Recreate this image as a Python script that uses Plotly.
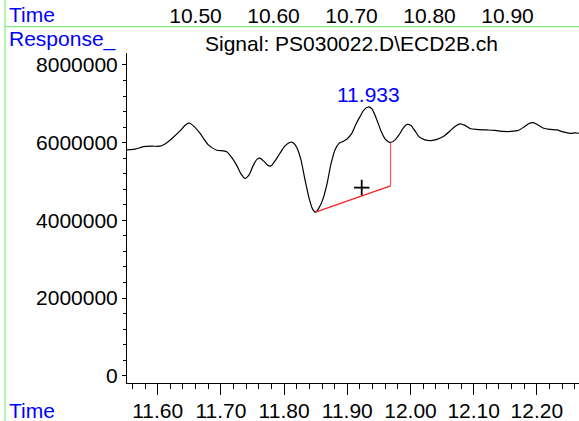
import plotly.graph_objects as go

# ---- data ----
times = [11.5509, 11.5641, 11.5772, 11.5910, 11.6036, 11.6116, 11.6226, 11.6353, 11.6448, 11.6511,
         11.6574, 11.6669, 11.6801, 11.6934, 11.7033, 11.7097, 11.7176, 11.7255, 11.7318, 11.7381,
         11.7445, 11.7508, 11.7571, 11.7619, 11.7682, 11.7745, 11.7793, 11.7856, 11.7935, 11.8014,
         11.8104, 11.8157, 11.8204, 11.8267, 11.8331, 11.8394, 11.8449, 11.8497, 11.8552, 11.8616,
         11.8679, 11.8742, 11.8805, 11.8869, 11.8932, 11.8995, 11.9066, 11.9138, 11.9201, 11.9264,
         11.9328, 11.9391, 11.9462, 11.9533, 11.9604, 11.9684, 11.9755, 11.9818, 11.9881, 11.9945,
         12.0008, 12.0071, 12.0134, 12.0229, 12.0324, 12.0419, 12.0519, 12.0625, 12.0704, 12.0783,
         12.0862, 12.0941, 12.1036, 12.1206, 12.1337, 12.1468, 12.1590, 12.1706, 12.1796, 12.1875,
         12.1943, 12.2017, 12.2096, 12.2207, 12.2318, 12.2413, 12.2524, 12.2603, 12.2666]
response = [5813000, 5832000, 5898000, 5909000, 5909000, 5968000, 6109000, 6302000, 6469000, 6500000,
            6418000, 6243000, 5942000, 5806000, 5788000, 5762000, 5608000, 5402000, 5196000, 5080000,
            5170000, 5402000, 5569000, 5600000, 5518000, 5415000, 5402000, 5531000, 5728000, 5916000,
            6011000, 5981000, 5865000, 5556000, 5042000, 4579000, 4296000, 4211000, 4322000, 4553000,
            4939000, 5453000, 5813000, 5981000, 6032000, 6096000, 6225000, 6482000, 6670000, 6842000,
            6919000, 6868000, 6611000, 6302000, 6083000, 6001000, 6071000, 6199000, 6366000, 6469000,
            6444000, 6302000, 6156000, 6071000, 6053000, 6083000, 6156000, 6302000, 6418000, 6482000,
            6444000, 6366000, 6341000, 6328000, 6315000, 6289000, 6289000, 6315000, 6405000, 6495000,
            6516000, 6456000, 6379000, 6341000, 6328000, 6276000, 6238000, 6250000, 6243000]

baseline_t = [11.8497, 11.9684]
baseline_v = [4211000, 4887000]
drop_t = [11.9684, 11.9684]
drop_v = [4887000, 6001000]
marker_t = [11.9228]
marker_v = [4844000]
peak_label = "11.933"
peak_t = 11.9332
peak_label_v = 7228000

y_ticks = [0, 2000000, 4000000, 6000000, 8000000]
x_ticks = [11.60, 11.70, 11.80, 11.90, 12.00, 12.10, 12.20]
top_ticks = [10.50, 10.60, 10.70, 10.80, 10.90]

title_text = r"Signal: PS030022.D\ECD2B.ch"

FONT = "Liberation Sans, Arial, sans-serif"
FS = 21
BLUE = "#0000ff"
GREEN = "#66ee66"

W, H = 579, 421
L, B = 127, 38
plot_h = H - B
ytop_px = 53.3
main_top = (plot_h - ytop_px) / plot_h

def py2paper(py):
    return (plot_h - py) / plot_h

def px2paper(px):
    return (px - L) / (W - L)

fig = go.Figure()
fig.add_trace(go.Scatter(x=times, y=response, mode="lines",
                         line=dict(color="black", width=1.2, shape="spline", smoothing=0.6),
                         hoverinfo="skip", showlegend=False))
fig.add_trace(go.Scatter(x=baseline_t, y=baseline_v, mode="lines",
                         line=dict(color="#ff2020", width=1.2), showlegend=False, hoverinfo="skip"))
fig.add_trace(go.Scatter(x=drop_t, y=drop_v, mode="lines",
                         line=dict(color="#ff5a5a", width=1.2), showlegend=False, hoverinfo="skip"))
fig.add_trace(go.Scatter(x=marker_t, y=marker_v, mode="markers",
                         marker=dict(symbol="cross-thin", size=11, line=dict(color="black", width=1.8)),
                         showlegend=False, hoverinfo="skip"))
# dummy trace for top axis
fig.add_trace(go.Scatter(x=top_ticks, y=[None] * len(top_ticks), xaxis="x2", yaxis="y",
                         mode="markers", showlegend=False, hoverinfo="skip"))

fig.add_annotation(x=peak_t, y=peak_label_v, text=peak_label, showarrow=False,
                   font=dict(family=FONT, size=FS, color=BLUE), xanchor="center", yanchor="middle")

for txt, px, py, col, anchor in [
    ("Time", 6.7, 15, BLUE, "left"),
    ("Response_", 6.7, 39, BLUE, "left"),
    (title_text, 351.7, 43, "black", "center"),
    ("Time", 7.4, 410, BLUE, "left"),
]:
    fig.add_annotation(xref="paper", yref="paper", x=px2paper(px), y=py2paper(py), text=txt,
                       showarrow=False, xanchor=anchor, yanchor="middle",
                       font=dict(family=FONT, size=FS, color=col))

fig.add_shape(type="line", xref="paper", yref="paper", x0=px2paper(5), x1=px2paper(579),
              y0=py2paper(26.7), y1=py2paper(26.7), line=dict(color=GREEN, width=1))
fig.add_shape(type="line", xref="paper", yref="paper", x0=px2paper(5), x1=px2paper(5),
              y0=py2paper(0), y1=py2paper(421), line=dict(color=GREEN, width=1))

x_left = 11.60 - (157.7 - L) / 632.0
x_right = 11.60 + (W - 157.7) / 632.0
y_top = (376 - ytop_px) / 77.75 * 2000000
y_bot = (376 - 383.3) / 77.75 * 2000000
t2_left = 10.50 - (195.5 - L) / 780.0
t2_right = 10.50 + (W - 195.5) / 780.0

fig.update_layout(
    width=W, height=H,
    margin=dict(l=L, r=0, t=0, b=B),
    paper_bgcolor="white", plot_bgcolor="white",
    font=dict(family=FONT, size=FS, color="black"),
    xaxis=dict(range=[x_left, x_right], tickvals=x_ticks, tickformat=".2f",
               showline=True, linecolor="black", linewidth=1, ticks="outside", ticklen=11,
               tickcolor="black", showgrid=False, zeroline=False, anchor="y",
               ticklabelstandoff=-2,
               tickfont=dict(family=FONT, size=FS, color="black"),
               minor=dict(dtick=0.02, tick0=11.6, ticks="outside", ticklen=5, tickcolor="black",
                          showgrid=False)),
    yaxis=dict(range=[y_bot, y_top], domain=[0, main_top], tickvals=y_ticks, tickformat="d",
               showline=True, linecolor="black", linewidth=1, ticks="outside", ticklen=4,
               tickcolor="black", showgrid=False, zeroline=False,
               tickfont=dict(family=FONT, size=FS, color="black"),
               minor=dict(dtick=400000, tick0=0, ticks="outside", ticklen=3, tickcolor="black",
                          showgrid=False)),
    xaxis2=dict(range=[t2_left, t2_right], overlaying="x", anchor="free", position=py2paper(26.7),
                side="top", tickvals=top_ticks, tickformat=".2f", showline=False, ticks="",
                showgrid=False, zeroline=False,
                tickfont=dict(family=FONT, size=FS, color="black")),
)

fig.write_html("out.html", config={"displayModeBar": False},
               post_script="document.body.style.margin='0';document.body.style.overflow='hidden';")
